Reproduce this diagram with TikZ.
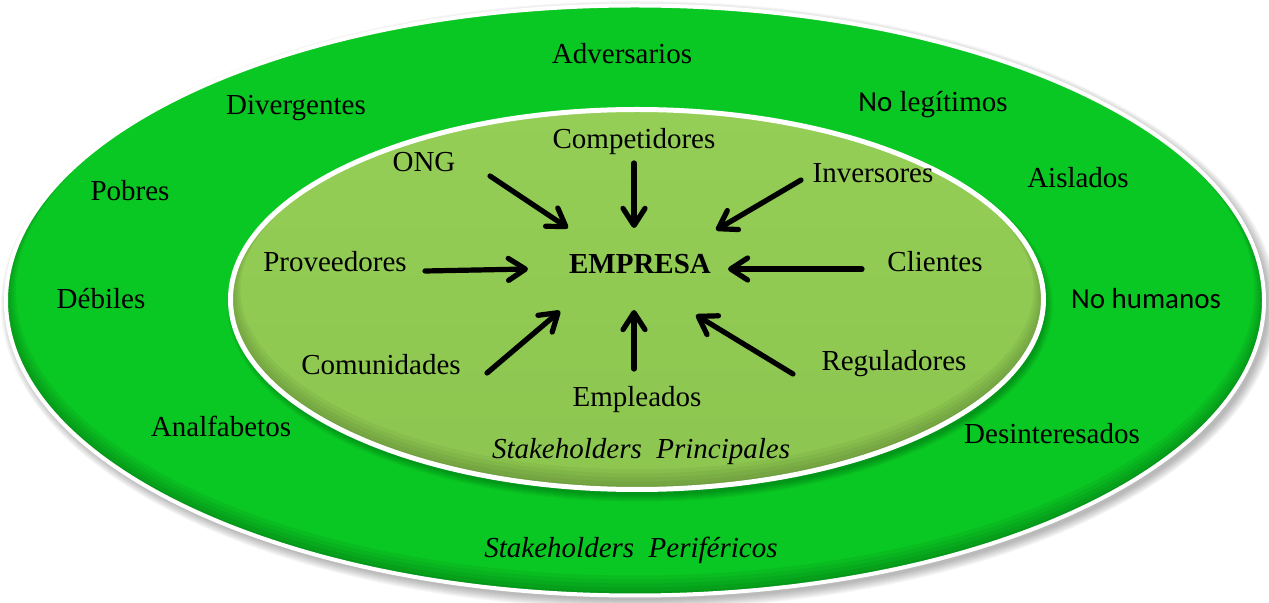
\documentclass[tikz,border=0pt]{standalone}
\usepackage{fontspec}
\setmainfont{Liberation Serif}
\newfontfamily\calibri{Carlito}
\usetikzlibrary{
	arrows.meta,									% 提供各种箭头样式
}

\definecolor{verdeext}{RGB}{10,200,35}
\definecolor{verdeclaro}{RGB}{148,206,86}
\definecolor{verdeint}{RGB}{140,198,80}

\tikzset{
	etiqueta/.style={anchor=base, inner sep=0pt, yshift=-0.7pt, font=\fontsize{14.5}{17}\selectfont},
	flecha/.style={line width=2.6pt, line cap=round,
		-{Straight Barb[length=8.5pt,width=11pt,line join=round,line cap=round]},
		preaction={draw=black, opacity=0.2, transform canvas={shift={(0.8pt,-1pt)}}}},
}

\begin{document}
\begin{tikzpicture}[x=0.5pt, y=-0.5pt]
	\useasboundingbox (0,0) rectangle (1269,603);

	% 外椭圆：阴影、填充、内阴影、白边
	\foreach \i in {1,...,10}
		\fill[black, opacity=0.03] (639,305) ellipse [x radius=628+\i, y radius=294+\i];
	\fill[verdeext] (635,300.5) ellipse [x radius=629, y radius=295];
	\begin{scope}
		\clip (635,300.5) ellipse [x radius=629, y radius=295];
		\foreach \i in {2,4,...,10}
			\draw[black, opacity=0.05, line width=\i] (635,300.5-\i) ellipse [x radius=629, y radius=295];
	\end{scope}
	\draw[white, line width=2pt] (635,300.5) ellipse [x radius=629, y radius=295];

	% 内椭圆
	\foreach \i in {1,...,8}
		\fill[black, opacity=0.03] (640,305) ellipse [x radius=405+\i, y radius=189+\i];
	\shade[top color=verdeclaro, bottom color=verdeint] (637,299.5) ellipse [x radius=406.5, y radius=190];
	\begin{scope}
		\clip (637,299.5) ellipse [x radius=406.5, y radius=190];
		\foreach \i in {2,4,...,10}
			\draw[black!60!verdeint, opacity=0.07, line width=\i] (637,299.5-\i) ellipse [x radius=406.5, y radius=190];
	\end{scope}
	\draw[white, line width=2.5pt] (637,299.5) ellipse [x radius=406.5, y radius=190];

	% 外圈文字
	\node[etiqueta] (adversarios) at (622,62) {Adversarios};
	\node[etiqueta] (divergentes) at (296,113) {Divergentes};
	\node[etiqueta] (nolegitimos) at (933,110) {{\calibri No} legítimos};
	\node[etiqueta] (pobres) at (130,199) {Pobres};
	\node[etiqueta] (aislados) at (1078,186) {Aislados};
	\node[etiqueta] (debiles) at (101,307) {Débiles};
	\node[etiqueta, font=\fontsize{14.5}{17}\calibri] (nohumanos) at (1146,307) {No humanos};
	\node[etiqueta] (analfabetos) at (221,435) {Analfabetos};
	\node[etiqueta] (desinteresados) at (1052,442) {Desinteresados};
	\node[etiqueta, font=\fontsize{14.5}{17}\selectfont\itshape] (perifericos) at (631,556) {Stakeholders\ \ Periféricos};

	% 内圈文字
	\node[etiqueta, font=\fontsize{14.5}{17}\selectfont\bfseries] (empresa) at (640,272) {EMPRESA};
	\node[etiqueta] (competidores) at (634,147) {Competidores};
	\node[etiqueta] (ong) at (424,170) {ONG};
	\node[etiqueta] (inversores) at (873,181) {Inversores};
	\node[etiqueta] (proveedores) at (335,270) {Proveedores};
	\node[etiqueta] (clientes) at (935,270) {Clientes};
	\node[etiqueta] (comunidades) at (381,373) {Comunidades};
	\node[etiqueta] (reguladores) at (894,369) {Reguladores};
	\node[etiqueta] (empleados) at (637,405) {Empleados};
	\node[etiqueta, font=\fontsize{14.5}{17}\selectfont\itshape] (principales) at (641,457) {Stakeholders\ \ Principales};

	% 箭头端点
	\coordinate (ong-o) at (490,176);			\coordinate (ong-d) at (568,228);
	\coordinate (competidores-o) at (634,163);	\coordinate (competidores-d) at (634,228);
	\coordinate (inversores-o) at (801,180);	\coordinate (inversores-d) at (716,230);
	\coordinate (proveedores-o) at (425,271);	\coordinate (proveedores-d) at (528,269);
	\coordinate (clientes-o) at (862,269);		\coordinate (clientes-d) at (728,269);
	\coordinate (comunidades-o) at (487,373);	\coordinate (comunidades-d) at (560,311);
	\coordinate (empleados-o) at (634,369);		\coordinate (empleados-d) at (634,310);
	\coordinate (reguladores-o) at (793,374);	\coordinate (reguladores-d) at (696,315);

	\foreach \n in {ong,competidores,inversores,proveedores,clientes,comunidades,empleados,reguladores}
		\draw[flecha] (\n-o) -- (\n-d);
\end{tikzpicture}
\end{document}
